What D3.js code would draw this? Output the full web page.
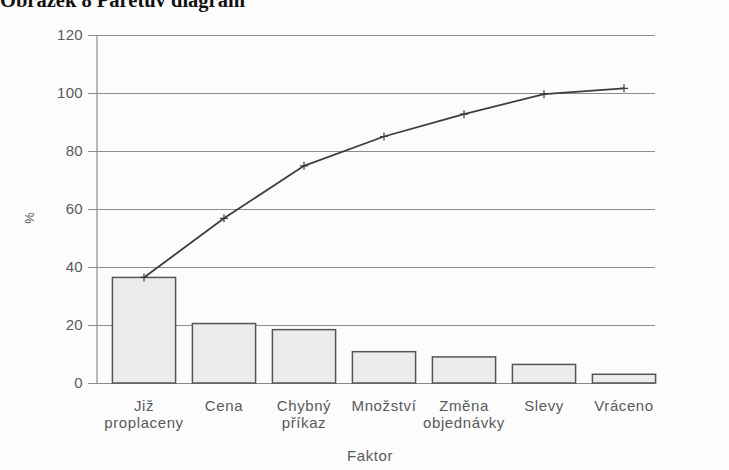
<!DOCTYPE html>
<html>
<head>
<meta charset="utf-8">
<script src="https://cdn.jsdelivr.net/npm/d3@7/dist/d3.min.js"></script>
<style>
  html, body { margin: 0; padding: 0; background: #fcfcfc; }
  svg { display: block; }
</style>
</head>
<body>
<svg id="chart" width="729" height="470"></svg>
<script>
// Pareto chart data: share of each factor (%) and cumulative share (%)
const categories = ["Již proplaceny", "Cena", "Chybný příkaz", "Množství", "Změna objednávky", "Slevy", "Vráceno"];
const labelLines = [["Již", "proplaceny"], ["Cena"], ["Chybný", "příkaz"], ["Množství"], ["Změna", "objednávky"], ["Slevy"], ["Vráceno"]];
const shares = [36.4, 20.5, 18.4, 10.8, 9.0, 6.4, 3.0];
const cumulative = [36.4, 56.8, 74.9, 85.0, 92.7, 99.6, 101.6];
const yTicks = [0, 20, 40, 60, 80, 100, 120];

const svg = d3.select("#chart");
const axisX = 97, gridRight = 655, tickLeft = 88;

const x = d3.scaleBand()
  .domain(categories)
  .range([104, 664])
  .paddingInner(0.21)
  .paddingOuter(0.105);

const y = d3.scaleLinear().domain([0, 120]).range([383, 35]);

const textColor = "#5a5a5a";
const font = "'Liberation Sans', Arial, Helvetica, sans-serif";

// Title line at the top edge
svg.append("text")
  .attr("x", 0)
  .attr("y", 7)
  .attr("font-family", "'Liberation Serif', 'Times New Roman', serif")
  .attr("font-weight", "bold")
  .attr("font-size", 20.5)
  .attr("fill", "#111")
  .text("Obrázek 8 Paretův diagram");

// Horizontal grid lines with ticks reaching out to the labels
const yAxis = d3.axisLeft(y)
  .tickValues(yTicks)
  .tickSize(-(gridRight - tickLeft))
  .tickPadding(5)
  .tickFormat(d3.format("d"));

const gAxis = svg.append("g")
  .attr("transform", `translate(${tickLeft},0)`)
  .call(yAxis);
gAxis.select(".domain").remove();
gAxis.selectAll(".tick line")
  .attr("stroke", "#8c8c8c")
  .attr("stroke-width", 1.2);
gAxis.selectAll(".tick text")
  .attr("font-family", font)
  .attr("font-size", 15)
  .attr("letter-spacing", 0.3)
  .attr("fill", textColor);

// Vertical axis line
svg.append("line")
  .attr("x1", axisX).attr("x2", axisX)
  .attr("y1", y(120)).attr("y2", y(0))
  .attr("stroke", "#8c8c8c")
  .attr("stroke-width", 1.2);

// Bars
svg.append("g")
  .selectAll("rect")
  .data(categories)
  .join("rect")
  .attr("x", d => x(d))
  .attr("y", (d, i) => y(shares[i]))
  .attr("width", x.bandwidth())
  .attr("height", (d, i) => y(0) - y(shares[i]))
  .attr("fill", "#ececec")
  .attr("stroke", "#555")
  .attr("stroke-width", 1.5);

// Cumulative line
const pts = categories.map((c, i) => [x(c) + x.bandwidth() / 2, y(cumulative[i])]);
svg.append("path")
  .attr("d", d3.line()(pts))
  .attr("fill", "none")
  .attr("stroke", "#3c3c3c")
  .attr("stroke-width", 1.8);

svg.append("g")
  .selectAll("path")
  .data(pts)
  .join("path")
  .attr("d", d => `M${d[0] - 4},${d[1]}H${d[0] + 4}M${d[0]},${d[1] - 4}V${d[1] + 4}`)
  .attr("stroke", "#3c3c3c")
  .attr("stroke-width", 1.2);

// Category labels
const gLabels = svg.append("g")
  .attr("font-family", font)
  .attr("font-size", 15)
  .attr("letter-spacing", 0.6)
  .attr("fill", textColor)
  .attr("text-anchor", "middle");
categories.forEach((c, i) => {
  const cx = x(c) + x.bandwidth() / 2;
  const t = gLabels.append("text")
    .attr("x", cx)
    .attr("y", 411);
  labelLines[i].forEach((line, j) => {
    t.append("tspan")
      .attr("x", cx)
      .attr("dy", j === 0 ? 0 : 17)
      .text(line);
  });
});

// Axis titles
svg.append("text")
  .attr("x", 370)
  .attr("y", 461)
  .attr("text-anchor", "middle")
  .attr("font-family", font)
  .attr("font-size", 15)
  .attr("letter-spacing", 0.6)
  .attr("fill", textColor)
  .text("Faktor");

svg.append("text")
  .attr("transform", "translate(34,218) rotate(-90)")
  .attr("text-anchor", "middle")
  .attr("font-family", font)
  .attr("font-size", 13)
  .attr("fill", textColor)
  .text("%");
</script>
</body>
</html>
